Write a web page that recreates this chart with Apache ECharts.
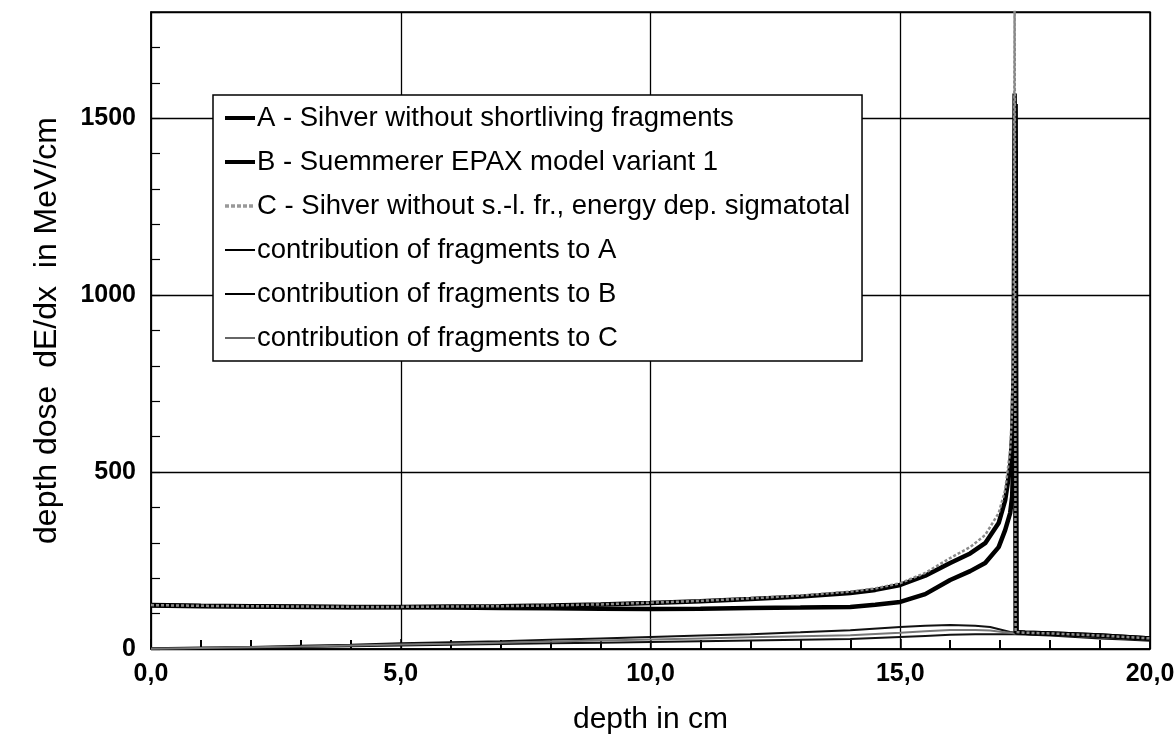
<!DOCTYPE html>
<html>
<head>
<meta charset="utf-8">
<script src="https://cdn.jsdelivr.net/npm/echarts@6/dist/echarts.min.js"></script>
<style>
  html, body { margin: 0; padding: 0; background: #fff; }
  #chart { width: 1176px; height: 735px; }
</style>
</head>
<body>
<div id="chart"></div>
<script>
// Depth grid (cm) for the total dose curves A, B, C
const depth = [0, 1, 2, 3, 4, 5, 6, 7, 8, 9, 10, 11, 12, 13, 14, 14.5, 15, 15.5, 16, 16.4, 16.7, 16.97, 17.1, 17.2, 17.24, 17.27, 17.29, 17.31, 17.33, 17.5, 18, 18.5, 19, 19.5, 20];

// dE/dx in MeV/cm
const doseA = [124, 122, 121, 120, 119, 119, 120, 121, 123, 126, 130, 135, 141, 148, 158, 167, 181, 207, 243, 270, 299, 356, 420, 514, 600, 780, 1570, 47, 47, 46, 44, 41, 38, 34, 30];
const doseB = [123, 121, 120, 119, 118, 118, 117, 116, 115, 114, 113, 114, 116, 117, 119, 125, 133, 155, 195, 220, 243, 288, 336, 384, 430, 560, 1000, 1540, 47, 46, 44, 41, 38, 34, 30];
const doseC = [124, 122, 121, 120, 119, 119, 120, 121, 123, 126, 131, 136, 143, 151, 162, 171, 186, 215, 257, 288, 322, 384, 449, 560, 680, 950, 1860, 48, 47, 46, 44, 41, 38, 34, 30];

// Depth grid (cm) for the fragment contributions
const depthFrag = [0, 1, 2, 3, 4, 5, 6, 7, 8, 9, 10, 11, 12, 13, 14, 15, 15.5, 16, 16.5, 16.8, 17.0, 17.2, 17.3, 17.5, 18, 18.5, 19, 19.5, 20];
const fragA = [2, 4, 6, 9, 12, 16, 19, 22, 26, 30, 34, 38, 42, 47, 53, 62, 66, 68, 66, 62, 55, 48, 46, 45, 42, 39, 36, 33, 29];
const fragC = [1, 3, 5, 7, 10, 13, 15, 18, 21, 24, 27, 30, 33, 36, 39, 46, 50, 54, 54, 52, 49, 46, 44, 43, 40, 37, 33, 30, 26];
const fragB = [1, 2, 4, 6, 8, 10, 12, 14, 16, 18, 20, 22, 24, 26, 28, 34, 37, 40, 42, 42, 42, 42, 42, 41, 38, 34, 30, 27, 23];

const seriesNames = [
  'A - Sihver without shortliving fragments',
  'B - Suemmerer EPAX model variant 1',
  'C - Sihver without s.-l. fr., energy dep. sigmatotal',
  'contribution of fragments to A',
  'contribution of fragments to B',
  'contribution of fragments to C'
];

const xTicks = [0, 5, 10, 15, 20];
const yTicks = [0, 500, 1000, 1500];

const pairs = (xs, ys) => xs.map((x, i) => [x, ys[i]]);

const chart = echarts.init(document.getElementById('chart'));

const lineSeries = (name, xs, ys, color, width, type, z) => ({
  name: name,
  type: 'line',
  data: pairs(xs, ys),
  symbol: 'none',
  showSymbol: false,
  clip: true,
  z: z,
  lineStyle: { color: color, width: width, type: type },
  itemStyle: { color: color },
  animation: false
});

// legend swatches: thick lines for the totals, thin for the contributions
const legendStyles = [
  { color: '#000', width: 4, type: 'solid' },
  { color: '#000', width: 4, type: 'solid' },
  { color: '#999', width: 3.5, type: [4, 2] },
  { color: '#000', width: 2, type: 'solid' },
  { color: '#000', width: 2, type: 'solid' },
  { color: '#666', width: 2, type: 'solid' }
];

chart.setOption({
  backgroundColor: '#ffffff',
  animation: false,
  textStyle: { fontFamily: 'Liberation Sans, Arial, sans-serif', color: '#000' },
  grid: {
    left: 151, right: 26, top: 12, bottom: 86,
    outerBoundsMode: 'none',
    containLabel: false,
    show: true, borderColor: '#000', borderWidth: 1.5, backgroundColor: 'transparent'
  },
  legend: {
    left: 213, top: 95,
    orient: 'vertical',
    backgroundColor: '#fff',
    borderColor: '#000',
    borderWidth: 1.5,
    padding: [9, 12, 9, 10],
    itemGap: 16,
    itemWidth: 30,
    itemHeight: 14,
    selectedMode: false,
    itemStyle: { opacity: 0 },
    data: seriesNames.map((n, i) => ({ name: n, lineStyle: legendStyles[i] })),
    textStyle: { fontSize: 27.5, color: '#000', fontFamily: 'Liberation Sans, Arial, sans-serif', padding: [0, 0, 0, -3] }
  },
  xAxis: {
    type: 'value',
    min: 0, max: 20, interval: 5,
    name: 'depth in cm',
    nameLocation: 'middle',
    nameGap: 56,
    nameTextStyle: { fontSize: 30, color: '#000' },
    axisLine: { show: true, lineStyle: { color: '#000', width: 1.5 } },
    axisTick: { show: true, inside: true, length: 10, lineStyle: { color: '#000', width: 1.5 } },
    minorTick: { show: true, splitNumber: 5, length: 9, lineStyle: { color: '#000', width: 2 } },
    axisLabel: {
      margin: 13, fontSize: 25, fontWeight: 'bold', color: '#000',
      formatter: v => xTicks.includes(v) ? v.toFixed(1).replace('.', ',') : ''
    },
    splitLine: { show: true, lineStyle: { color: '#000', width: 1.3 } }
  },
  yAxis: [{
    type: 'value',
    min: 0, max: 1800, interval: 500,
    name: 'depth dose  dE/dx  in MeV/cm',
    nameLocation: 'middle',
    nameGap: 88,
    nameTextStyle: { fontSize: 32, color: '#000' },
    axisLine: { show: true, lineStyle: { color: '#000', width: 1.5 } },
    axisTick: { show: false },
    axisLabel: {
      margin: 15, fontSize: 25, fontWeight: 'bold', color: '#000',
      showMaxLabel: false,
      formatter: v => yTicks.includes(v) ? String(v) : ''
    },
    splitLine: { show: true, lineStyle: { color: '#000', width: 1.3 } }
  }, {
    // minor tick marks every 100 MeV/cm, drawn inside the frame
    type: 'value',
    position: 'left',
    offset: 0,
    min: 0, max: 1800, interval: 100,
    axisLine: { show: false },
    axisTick: { show: true, inside: true, length: 9, lineStyle: { color: '#000', width: 1.2 } },
    axisLabel: { show: false },
    splitLine: { show: false }
  }],
  series: [
    lineSeries(seriesNames[3], depthFrag, fragA, '#111', 2, 'solid', 3),
    lineSeries(seriesNames[4], depthFrag, fragB, '#111', 2, 'solid', 3),
    lineSeries(seriesNames[5], depthFrag, fragC, '#777', 2, 'solid', 3),
    lineSeries(seriesNames[1], depth, doseB, '#000', 4.5, 'solid', 4),
    lineSeries(seriesNames[0], depth, doseA, '#000', 4.5, 'solid', 4),
    lineSeries(seriesNames[2], depth, doseC, '#8a8a8a', 2.5, [3, 2], 5)
  ]
});
</script>
</body>
</html>
